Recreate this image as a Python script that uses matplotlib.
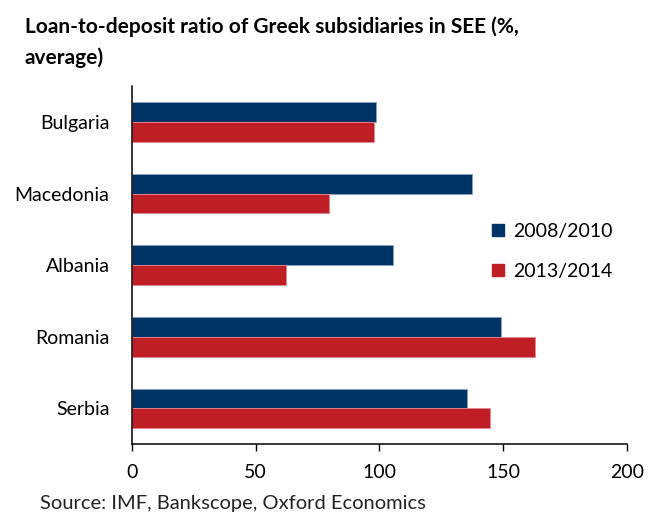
import matplotlib
matplotlib.use('Agg')
import matplotlib.pyplot as plt
from matplotlib.patches import Patch
import numpy as np

plt.rcParams['font.family'] = ['Lato', 'DejaVu Sans']

# loan-to-deposit ratios, % average
countries = ['Bulgaria', 'Macedonia', 'Albania', 'Romania', 'Serbia']
ratio_2008_2010 = [98.6, 137.4, 105.7, 149.1, 135.5]
ratio_2013_2014 = [97.9, 79.8, 62.2, 162.8, 144.5]
series_labels = ['2008/2010', '2013/2014']
x_ticks = [0, 50, 100, 150, 200]

BLUE = '#003366'
RED = '#BE1E24'

fig = plt.figure(figsize=(6.48, 5.16), dpi=100)
ax = fig.add_axes([0.2032, 0.1389, 0.7644, 0.6944])

y = np.arange(len(countries))[::-1]
h = 0.278
ax.barh(y + h / 2, ratio_2008_2010, height=h, color=BLUE,
        edgecolor='#8da2bf', linewidth=0.6)
ax.barh(y - h / 2, ratio_2013_2014, height=h, color=RED,
        edgecolor='#e08a8e', linewidth=0.6)

ax.set_xlim(0, 200)
ax.set_ylim(-0.5, 4.5)
ax.set_xticks(x_ticks)
ax.set_yticks(y)
ax.set_yticklabels(countries)
ax.tick_params(axis='x', direction='out', length=5, width=1, pad=9, labelsize=14)
ax.tick_params(axis='y', length=0, pad=16, labelsize=14)
for s in ['top', 'right']:
    ax.spines[s].set_visible(False)
for s in ['left', 'bottom']:
    ax.spines[s].set_linewidth(1.1)

handles = [Patch(color=BLUE), Patch(color=RED)]
fig.legend(handles, series_labels, loc='center left',
           bbox_to_anchor=(0.733, 0.513), frameon=False, fontsize=14,
           handlelength=0.6, handleheight=0.6, handletextpad=0.45,
           labelspacing=1.2)

fig.text(0.038, 0.968, 'Loan-to-deposit ratio of Greek subsidiaries in SEE (%,\naverage)',
         fontsize=15, fontweight='bold', va='top', ha='left', linespacing=1.6)
fig.text(0.062, 0.025, 'Source: IMF, Bankscope, Oxford Economics',
         fontsize=14.5, color='#222222', va='center', ha='left')

fig.savefig('out.png', dpi=100)
